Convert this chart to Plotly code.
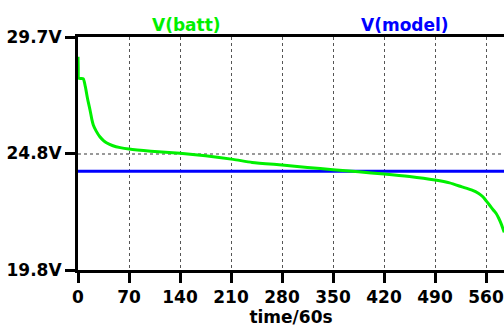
import plotly.graph_objects as go

# data
t_batt = [0, 0.3, 1, 4, 7.3, 10, 13, 16.5, 19, 21, 25, 30, 35, 39, 48, 58, 70, 100, 140, 175, 213, 239,
          280, 315, 350, 385, 420, 455, 490, 510, 527, 540, 550, 556, 560, 565, 570, 574, 577.5, 581, 585]
v_batt = [28.86, 28.4, 27.95, 27.94, 27.92, 27.6, 27.1, 26.6, 26.2, 25.96, 25.7, 25.46, 25.3, 25.21, 25.08,
          25.0, 24.94, 24.85, 24.76, 24.65, 24.5, 24.37, 24.26, 24.16, 24.06, 23.97, 23.88, 23.77,
          23.62, 23.5, 23.33, 23.2, 23.05, 22.9, 22.75, 22.55, 22.35, 22.2, 22.0, 21.75, 21.4]
t_model = [0, 600]
v_model = [24.0, 24.0]

x_ticks = [0, 70, 140, 210, 280, 350, 420, 490, 560]
x_ticktext = [str(v) for v in x_ticks]
y_ticks = [19.8, 24.75, 29.7]
y_ticktext = ["19.8V", "24.8V", "29.7V"]

fig = go.Figure()
fig.add_trace(go.Scatter(x=t_model, y=v_model, mode="lines",
                         line=dict(color="#0000FF", width=3), name="V(model)"))
fig.add_trace(go.Scatter(x=t_batt, y=v_batt, mode="lines", line_shape="spline",
                         line=dict(color="#00F000", width=3, smoothing=0.6), name="V(batt)"))

font = "DejaVu Sans, Verdana, sans-serif"
fs = 17
fig.update_layout(
    width=504, height=328,
    margin=dict(l=78, r=0, t=37, b=58),
    paper_bgcolor="white", plot_bgcolor="white",
    showlegend=False,
    font=dict(family=font, size=fs, color="black"),
    xaxis=dict(range=[0, 584.7], tickvals=x_ticks, ticktext=["<b>%s</b>" % t for t in x_ticktext],
               showline=True, linecolor="black", linewidth=3,
               mirror=True, ticks="outside", ticklen=10, tickwidth=3, tickcolor="black",
               showgrid=True, gridcolor="#555555", griddash="3px,3px", gridwidth=1,
               zeroline=False, tickfont=dict(size=fs, family=font),
               title=dict(text="<b>time/60s</b>", font=dict(size=fs, family=font), standoff=2)),
    yaxis=dict(range=[19.8, 29.7], tickvals=y_ticks, ticktext=["<b>%s</b>" % t for t in y_ticktext],
               showline=True, linecolor="black", linewidth=3, ticks="outside", ticklen=10, tickwidth=3,
               tickcolor="black", showgrid=True, gridcolor="#999999", griddash="3px,3px", gridwidth=1.5,
               zeroline=False, tickfont=dict(size=fs, family=font)),
)
pw = 504 - 78
ph = 328 - 37 - 58
fig.add_annotation(text="<b>V(batt)</b>", x=(186 - 78) / pw, y=(270 - 25) / ph, xref="paper",
                   yref="paper", xanchor="center", yanchor="middle", showarrow=False,
                   font=dict(size=fs, color="#00F000", family=font))
fig.add_annotation(text="<b>V(model)</b>", x=(405 - 78) / pw, y=(270 - 25) / ph, xref="paper",
                   yref="paper", xanchor="center", yanchor="middle", showarrow=False,
                   font=dict(size=fs, color="#0000FF", family=font))

fig.write_html("out.html")
